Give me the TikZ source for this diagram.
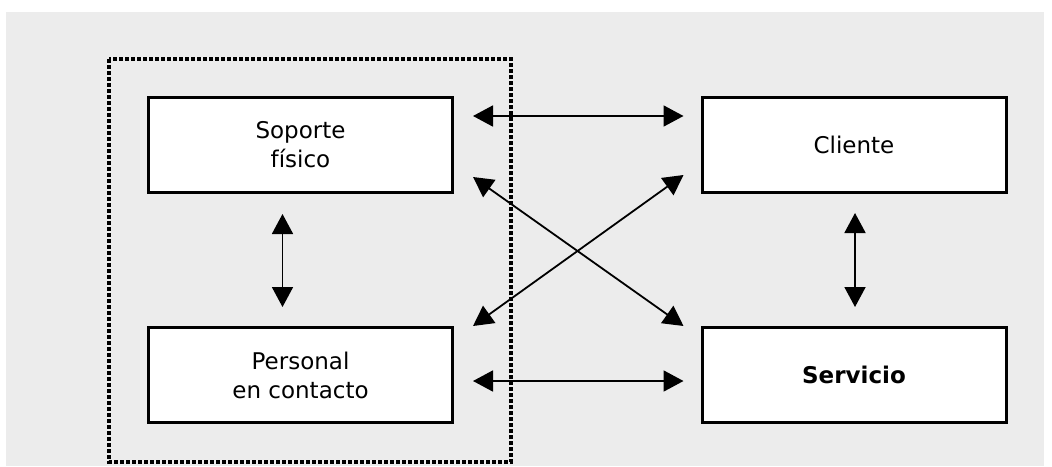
\documentclass[tikz,border=0pt]{standalone}
\usepackage{fontspec}
\setmainfont{DejaVu Sans}
\usetikzlibrary{arrows.meta}
\definecolor{bggray}{HTML}{ECECEC}
\tikzstyle{entity} = [rectangle, minimum width=152pt, minimum
height=47.5pt, text centered, align=center, draw=black, line width=1.5pt,
fill=white, font=\fontsize{11.5}{14.5}\selectfont]
\tikzstyle{arrow} = [line width=0.9pt,
{Triangle[length=10pt,width=10.5pt]}-{Triangle[length=10pt,width=10.5pt]}]
\tikzstyle{frame} = [line width=2pt, dash pattern=on 2pt off 1pt]

\begin{document}
\begin{tikzpicture}[x=0.5pt, y=-0.5pt, node distance=115pt]

\useasboundingbox (0,0) rectangle (1052,466);
\fill[bggray] (6,12) rectangle (1044,466);

\node(sop)[entity] at (300.5,145) {Soporte\\físico};
\node(per)[entity, below of=sop]{Personal\\en contacto};
\node(cli)[entity, right of=sop, xshift=161.75pt]{Cliente};
\node(ser)[entity, below of=cli]{\textbf{Servicio}};

% marco punteado
\draw[frame] (109,59) rectangle (511,462);

\draw[arrow]([shift={(19,-29)}]sop.east) -- ([shift={(-17,-29)}]cli.west);
\draw[arrow]([shift={(19,6)}]per.east) -- ([shift={(-17,6)}]ser.west);
\draw[arrow]([shift={(19,-17)}]sop.south east) -- ([shift={(-17,0)}]ser.north west);
\draw[arrow]([shift={(19,0)}]per.north east) -- ([shift={(-17,-19)}]cli.south west);
\draw[arrow]([shift={(-18,20)}]sop.south) -- ([shift={(-18,-19)}]per.north);
\draw[arrow]([shift={(1,19)}]cli.south) -- ([shift={(1,-19)}]ser.north);

\end{tikzpicture}
\end{document}
